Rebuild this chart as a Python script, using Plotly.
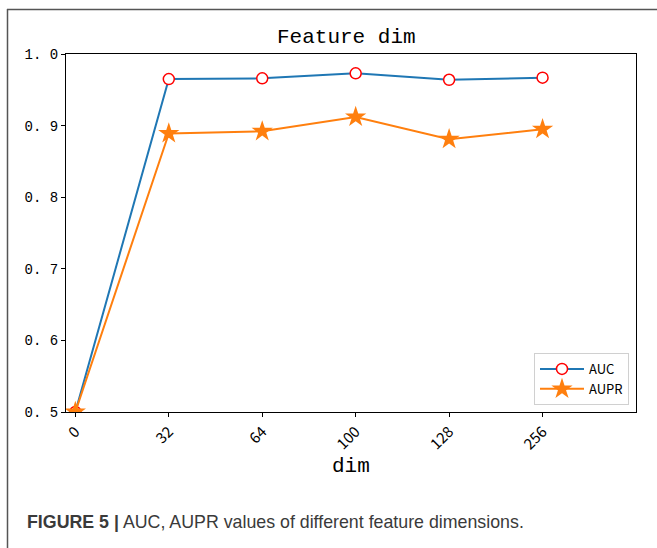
import plotly.graph_objects as go

dims = ["0", "32", "64", "100", "128", "256"]
auc = [0.5, 0.965, 0.966, 0.973, 0.964, 0.967]
aupr = [0.5, 0.889, 0.892, 0.912, 0.881, 0.895]
yticks = [0.5, 0.6, 0.7, 0.8, 0.9, 1.0]
ytick_text = ["0. 5", "0. 6", "0. 7", "0. 8", "0. 9", "1. 0"]

W, H = 657, 548
L, R, T, B = 66, 636, 54, 412
pw, ph = R - L, B - T

def px(x):
    return (x - L) / pw

def py(y):
    return (B - y) / ph

xs = list(range(len(dims)))
mono = "Liberation Mono"

fig = go.Figure()
fig.add_trace(go.Scatter(
    x=xs, y=auc, name="AUC", mode="lines+markers",
    line=dict(color="#1f77b4", width=2),
    marker=dict(symbol="circle", size=11, color="white",
                line=dict(color="red", width=1.5)),
))
fig.add_trace(go.Scatter(
    x=xs, y=aupr, name="AUPR", mode="lines+markers",
    line=dict(color="#ff7f0e", width=2),
    marker=dict(symbol="star", size=16, color="#ff7f0e",
                line=dict(color="#ff7f0e", width=0)),
))

fig.update_layout(
    width=W, height=H,
    margin=dict(l=L, r=W - R, t=T, b=H - B),
    paper_bgcolor="white", plot_bgcolor="white",
    font=dict(family=mono, color="black", size=13),
    showlegend=True,
    legend=dict(
        x=px(629), y=py(405), xanchor="right", yanchor="bottom",
        bgcolor="white", bordercolor="#d0d0d0", borderwidth=1,
        font=dict(family="Noto Sans CJK SC", size=13),
        itemwidth=44, tracegroupgap=0,
    ),
    xaxis=dict(
        range=[-0.1, 6.0], tickmode="array", tickvals=xs, ticktext=dims,
        tickangle=-45, ticks="outside", ticklen=4, tickcolor="black",
        showgrid=False, zeroline=False, showline=True, linecolor="black",
        linewidth=1, mirror=True, tickfont=dict(family="Noto Sans CJK SC", size=15),
    ),
    yaxis=dict(
        range=[0.5, 1.0], tickmode="array", tickvals=yticks, ticktext=ytick_text,
        ticks="outside", ticklen=4, tickcolor="black",
        showgrid=False, zeroline=False, showline=True, linecolor="black",
        linewidth=1, mirror=True, tickfont=dict(family=mono, size=14),
    ),
)

annotations = [
    dict(text="Feature dim", x=px(346), y=py(37), xref="paper", yref="paper",
         showarrow=False, font=dict(family=mono, size=21, color="black"),
         xanchor="center", yanchor="middle"),
    dict(text="dim", x=px(351), y=py(466), xref="paper", yref="paper",
         showarrow=False, font=dict(family=mono, size=21, color="black"),
         xanchor="center", yanchor="middle"),
    dict(text="<b>FIGURE 5 |</b> AUC, AUPR values of different feature dimensions.",
         x=px(25), y=py(522), xref="paper", yref="paper", showarrow=False,
         font=dict(family="Liberation Sans", size=17.8, color="#3a3a3a"),
         xanchor="left", yanchor="middle"),
]
fig.update_layout(annotations=annotations)

fig.update_layout(shapes=[
    dict(type="line", xref="paper", yref="paper", x0=px(7.5), x1=px(7.5),
         y0=py(9), y1=py(560), line=dict(color="#555555", width=1.5)),
    dict(type="line", xref="paper", yref="paper", x0=px(7), x1=px(670),
         y0=py(9.5), y1=py(9.5), line=dict(color="#555555", width=1.5)),
])

fig.write_html("out.html")
